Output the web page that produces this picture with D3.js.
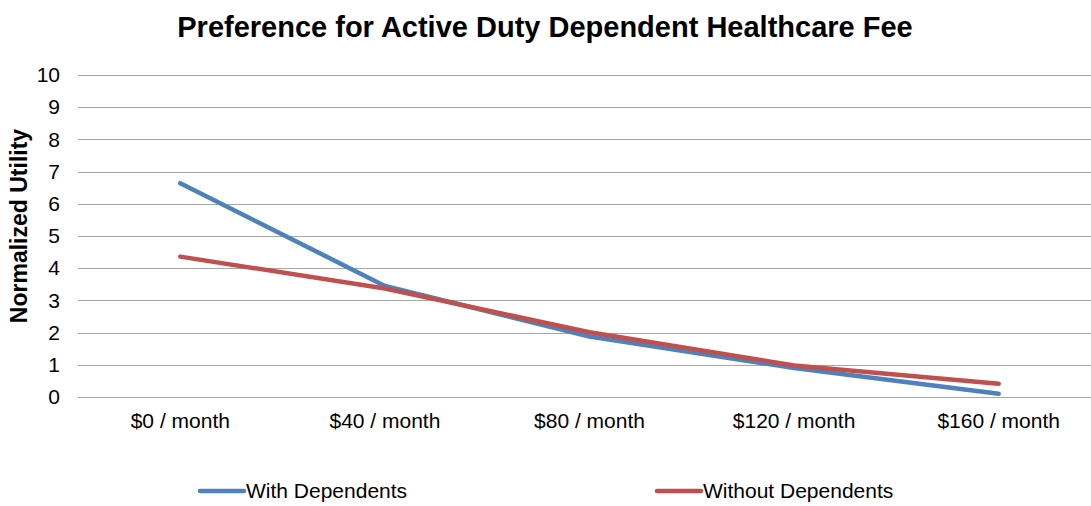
<!DOCTYPE html>
<html>
<head>
<meta charset="utf-8">
<script src="https://d3js.org/d3.v7.min.js"></script>
<style>
  body { margin: 0; background: #fff; }
  svg { font-family: "Liberation Sans", Arial, sans-serif; }
</style>
</head>
<body>
<div id="chart"></div>
<script>
var width = 1091,
    height = 506;

var categories = ["$0 / month", "$40 / month", "$80 / month", "$120 / month", "$160 / month"];
var withDependents = [6.64, 3.45, 1.88, 0.9, 0.1];
var withoutDependents = [4.36, 3.37, 2.01, 0.98, 0.41];
var seriesNames = ["With Dependents", "Without Dependents"];
var seriesColors = ["#4F81BD", "#C0504D"];
var yTicks = d3.range(0, 11);

var series = [
  { name: seriesNames[0], color: seriesColors[0], values: withDependents },
  { name: seriesNames[1], color: seriesColors[1], values: withoutDependents }
];

var margin = { left: 78, right: -10, top: 75, bottom: 109 };

var x = d3.scaleBand()
    .domain(categories)
    .range([margin.left, width - margin.right]);

var y = d3.scaleLinear()
    .domain([0, 10])
    .range([height - margin.bottom, margin.top]);

var svg = d3.select("#chart").append("svg")
    .attr("width", width)
    .attr("height", height);

// title
svg.append("text")
    .attr("x", 545)
    .attr("y", 37)
    .attr("text-anchor", "middle")
    .style("font-size", "29px")
    .style("font-weight", "bold")
    .text("Preference for Active Duty Dependent Healthcare Fee");

// gridlines
svg.append("g")
    .attr("class", "grid")
  .selectAll("line")
    .data(yTicks)
  .enter().append("line")
    .attr("x1", margin.left)
    .attr("x2", width)
    .attr("y1", function(d) { return Math.round(y(d)) + 0.5; })
    .attr("y2", function(d) { return Math.round(y(d)) + 0.5; })
    .attr("stroke", "#a6a6a6")
    .attr("stroke-width", 1);

// y axis
var yAxis = svg.append("g")
    .attr("transform", "translate(" + (margin.left - 10) + ",0)")
    .call(d3.axisLeft(y).tickValues(yTicks).tickSize(0).tickPadding(8));
yAxis.select(".domain").remove();
yAxis.selectAll("text")
    .style("font-size", "21px")
    .style("font-family", "'Liberation Sans', Arial, sans-serif")
    .attr("fill", "#000");

// x axis
var xAxis = svg.append("g")
    .attr("transform", "translate(0," + (height - margin.bottom) + ")")
    .call(d3.axisBottom(x).tickSize(0).tickPadding(16));
xAxis.select(".domain").remove();
xAxis.selectAll("text")
    .style("font-size", "21px")
    .style("font-family", "'Liberation Sans', Arial, sans-serif")
    .attr("fill", "#000");

// y label
svg.append("text")
    .attr("transform", "translate(27,226)rotate(-90)")
    .attr("text-anchor", "middle")
    .style("font-size", "23px")
    .style("font-weight", "bold")
    .text("Normalized Utility");

// lines
var line = d3.line()
    .x(function(d, i) { return x(categories[i]) + x.bandwidth() / 2; })
    .y(function(d) { return y(d); });

svg.selectAll(".series")
    .data(series)
  .enter().append("path")
    .attr("class", "series")
    .attr("d", function(d) { return line(d.values); })
    .attr("fill", "none")
    .attr("stroke", function(d) { return d.color; })
    .attr("stroke-width", 4.5)
    .attr("stroke-linecap", "round")
    .attr("stroke-linejoin", "round");

// legend
var legendX = [200, 657];
var legend = svg.selectAll(".legend")
    .data(series)
  .enter().append("g")
    .attr("class", "legend")
    .attr("transform", function(d, i) { return "translate(" + legendX[i] + ",491)"; });

legend.append("line")
    .attr("x1", 0)
    .attr("x2", 44)
    .attr("stroke", function(d) { return d.color; })
    .attr("stroke-width", 4.5)
    .attr("stroke-linecap", "round");

legend.append("text")
    .attr("x", 46)
    .attr("y", 7)
    .style("font-size", "21px")
    .text(function(d) { return d.name; });
</script>
</body>
</html>
